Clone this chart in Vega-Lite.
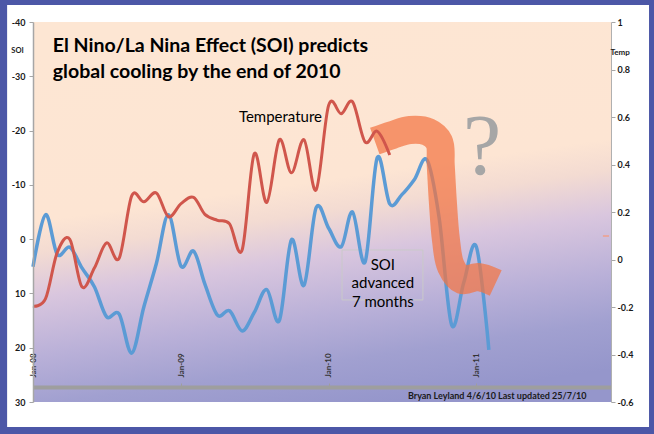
{
  "$schema": "https://vega.github.io/schema/vega-lite/v6.json",
  "width": 578,
  "height": 380,
  "autosize": {"type": "none"},
  "padding": {"left": 33, "top": 22, "right": 43, "bottom": 32},
  "background": "#4c57a7",
  "config": {"view": {"stroke": null}, "font": "Lato"},
  "datasets": {
    "temp": [
      {"date": "2008-01-01T00:00", "temp": -0.196},
      {"date": "2008-02-01T00:00", "temp": -0.165},
      {"date": "2008-03-01T00:00", "temp": 0.03},
      {"date": "2008-04-01T00:00", "temp": 0.085},
      {"date": "2008-05-01T00:00", "temp": -0.115},
      {"date": "2008-06-01T00:00", "temp": -0.035},
      {"date": "2008-07-01T00:00", "temp": 0.07},
      {"date": "2008-08-01T00:00", "temp": 0.005},
      {"date": "2008-09-01T00:00", "temp": 0.268},
      {"date": "2008-10-01T00:00", "temp": 0.243},
      {"date": "2008-11-01T00:00", "temp": 0.28},
      {"date": "2008-12-01T00:00", "temp": 0.18},
      {"date": "2009-01-01T00:00", "temp": 0.235},
      {"date": "2009-02-01T00:00", "temp": 0.262},
      {"date": "2009-03-01T00:00", "temp": 0.19},
      {"date": "2009-04-01T00:00", "temp": 0.165},
      {"date": "2009-05-01T00:00", "temp": 0.15},
      {"date": "2009-06-01T00:00", "temp": 0.04},
      {"date": "2009-07-01T00:00", "temp": 0.445},
      {"date": "2009-08-01T00:00", "temp": 0.24},
      {"date": "2009-09-01T00:00", "temp": 0.504},
      {"date": "2009-10-01T00:00", "temp": 0.365},
      {"date": "2009-11-01T00:00", "temp": 0.504},
      {"date": "2009-12-01T00:00", "temp": 0.293},
      {"date": "2010-01-01T00:00", "temp": 0.65},
      {"date": "2010-02-01T00:00", "temp": 0.614},
      {"date": "2010-03-01T00:00", "temp": 0.664},
      {"date": "2010-04-01T00:00", "temp": 0.495},
      {"date": "2010-05-01T00:00", "temp": 0.54},
      {"date": "2010-06-01T00:00", "temp": 0.44}
    ],
    "soi": [
      {"date": "2008-01-01T00:00", "soi": 5.1},
      {"date": "2008-02-01T00:00", "soi": -4.5},
      {"date": "2008-03-01T00:00", "soi": 2.8},
      {"date": "2008-04-01T00:00", "soi": 1.5},
      {"date": "2008-05-01T00:00", "soi": 5.3},
      {"date": "2008-06-01T00:00", "soi": 8.8},
      {"date": "2008-07-01T00:00", "soi": 14.3},
      {"date": "2008-08-01T00:00", "soi": 13.8},
      {"date": "2008-09-01T00:00", "soi": 21.0},
      {"date": "2008-10-01T00:00", "soi": 12.5},
      {"date": "2008-11-01T00:00", "soi": 4.5},
      {"date": "2008-12-01T00:00", "soi": -4.5},
      {"date": "2009-01-01T00:00", "soi": 5.0},
      {"date": "2009-02-01T00:00", "soi": 2.2},
      {"date": "2009-03-01T00:00", "soi": 8.3},
      {"date": "2009-04-01T00:00", "soi": 14.0},
      {"date": "2009-05-01T00:00", "soi": 13.2},
      {"date": "2009-06-01T00:00", "soi": 16.9},
      {"date": "2009-07-01T00:00", "soi": 13.5},
      {"date": "2009-08-01T00:00", "soi": 9.3},
      {"date": "2009-09-01T00:00", "soi": 15.0},
      {"date": "2009-10-01T00:00", "soi": 0.1},
      {"date": "2009-11-01T00:00", "soi": 8.5},
      {"date": "2009-12-01T00:00", "soi": -5.8},
      {"date": "2010-01-01T00:00", "soi": -2.0},
      {"date": "2010-02-01T00:00", "soi": 1.4},
      {"date": "2010-03-01T00:00", "soi": -5.0},
      {"date": "2010-04-01T00:00", "soi": 4.2},
      {"date": "2010-05-01T00:00", "soi": -15.0},
      {"date": "2010-06-01T00:00", "soi": -6.5},
      {"date": "2010-07-01T00:00", "soi": -8.2},
      {"date": "2010-08-01T00:00", "soi": -11.0},
      {"date": "2010-09-01T00:00", "soi": -14.6},
      {"date": "2010-10-01T00:00", "soi": -4.0},
      {"date": "2010-11-01T00:00", "soi": 15.8},
      {"date": "2010-12-01T00:00", "soi": 8.0},
      {"date": "2011-01-01T00:00", "soi": 1.4},
      {"date": "2011-02-01T00:00", "soi": 20.4}
    ],
    "arrow": [
      {"date": "2010-04-25T00:00", "soi": -18.08},
      {"date": "2010-06-07T00:00", "soi": -19.18},
      {"date": "2010-07-21T00:00", "soi": -20.11},
      {"date": "2010-09-04T00:00", "soi": -19.74},
      {"date": "2010-10-01T00:00", "soi": -17.9},
      {"date": "2010-10-05T00:00", "soi": -13.66},
      {"date": "2010-10-10T00:00", "soi": -7.21},
      {"date": "2010-10-18T00:00", "soi": 0.16},
      {"date": "2010-10-30T00:00", "soi": 4.95},
      {"date": "2010-11-27T00:00", "soi": 7.53},
      {"date": "2011-01-05T00:00", "soi": 6.97},
      {"date": "2011-02-18T00:00", "soi": 8.08}
    ]
  },
  "resolve": {"scale": {"y": "independent"}, "axis": {"x": "independent"}},
  "layer": [
    {
      "data": {"values": [{}]},
      "mark": {"type": "rect", "fill": "#ffffff"},
      "encoding": {
        "x": {"datum": {"year": 2007, "month": 10, "date": 29}, "type": "temporal", "scale": {"domain": [{"year": 2008, "month": 1, "date": 1}, {"year": 2011, "month": 11, "date": 30}]}, "axis": null},
        "x2": {"datum": {"year": 2012, "month": 3, "date": 3}},
        "y": {"datum": -43.13, "type": "quantitative", "scale": {"domain": [-40, 30], "reverse": true, "nice": false, "zero": false}, "axis": null},
        "y2": {"datum": 34.6}
      }
    },
    {
      "data": {"values": [{}]},
      "mark": {"type": "rect", "fill": {"gradient": "linear", "x1": 0.39, "y1": 0, "x2": 0.61, "y2": 1, "stops": [
        {"offset": 0, "color": "#fde6d3"},
        {"offset": 0.42, "color": "#fde5d3"},
        {"offset": 0.5, "color": "#f3dbd2"},
        {"offset": 0.61, "color": "#d9c6de"},
        {"offset": 0.76, "color": "#b9b0d8"},
        {"offset": 0.88, "color": "#a1a0d0"},
        {"offset": 1, "color": "#9596cb"}
      ]}},
      "encoding": {
        "x": {"datum": {"year": 2008, "month": 1, "date": 1}, "type": "temporal", "scale": {"domain": [{"year": 2008, "month": 1, "date": 1}, {"year": 2011, "month": 11, "date": 30}]}, "axis": null},
        "x2": {"datum": {"year": 2011, "month": 11, "date": 30}},
        "y": {"datum": -40, "type": "quantitative", "scale": {"domain": [-40, 30], "reverse": true, "nice": false, "zero": false}, "axis": null},
        "y2": {"datum": 30}
      }
    },
    {
      "data": {"values": [{}]},
      "mark": {"type": "rect", "fill": "transparent", "stroke": "#c9c9c9", "strokeWidth": 1},
      "encoding": {
        "x": {"datum": {"year": 2010, "month": 2, "date": 3}, "type": "temporal", "scale": {"domain": [{"year": 2008, "month": 1, "date": 1}, {"year": 2011, "month": 11, "date": 30}]}, "axis": null},
        "x2": {"datum": {"year": 2010, "month": 8, "date": 22}},
        "y": {"datum": 2.0, "type": "quantitative", "scale": {"domain": [-40, 30], "reverse": true, "nice": false, "zero": false}, "axis": null},
        "y2": {"datum": 11.2}
      }
    },
    {
      "data": {"name": "soi"},
      "mark": {"type": "line", "interpolate": "cardinal", "color": "#5b9bd5", "strokeWidth": 3.5},
      "encoding": {
        "x": {"field": "date", "type": "temporal", "scale": {"domain": [{"year": 2008, "month": 1, "date": 1}, {"year": 2011, "month": 11, "date": 30}]}, "axis": null},
        "y": {"field": "soi", "type": "quantitative", "scale": {"domain": [-40, 30], "reverse": true, "nice": false, "zero": false},
          "axis": {"orient": "left", "zindex": 1, "values": [-40, -30, -20, -10, 0, 10, 20, 30], "labelExpr": "replace(format(datum.value, '~g'), '−', '-')",
            "labelFont": "Lato", "labelFontSize": 9, "labelFontWeight": "bold", "labelColor": "#1a1a1a", "labelPadding": 4,
            "tickSize": 4, "tickColor": "#a6a6a6", "domainColor": "#a6a6a6", "domainWidth": 1.5, "grid": false,
            "title": "SOI", "titleAngle": 0, "titleX": -16, "titleY": 28, "titleAlign": "center", "titleBaseline": "middle",
            "titleFont": "Lato", "titleFontSize": 7.5, "titleFontWeight": "bold", "titleColor": "#1a1a1a"}}
      }
    },
    {
      "data": {"name": "arrow"},
      "mark": {"type": "line", "interpolate": "catmull-rom", "color": "#f27443", "opacity": 0.72, "strokeWidth": 28, "strokeCap": "butt", "strokeJoin": "round"},
      "encoding": {
        "x": {"field": "date", "type": "temporal", "scale": {"domain": [{"year": 2008, "month": 1, "date": 1}, {"year": 2011, "month": 11, "date": 30}]}, "axis": null},
        "y": {"field": "soi", "type": "quantitative", "scale": {"domain": [-40, 30], "reverse": true, "nice": false, "zero": false}, "axis": null}
      }
    },
    {
      "data": {"name": "temp"},
      "mark": {"type": "line", "interpolate": "cardinal", "color": "#d0564c", "strokeWidth": 3},
      "encoding": {
        "x": {"field": "date", "type": "temporal", "scale": {"domain": [{"year": 2008, "month": 1, "date": 1}, {"year": 2011, "month": 11, "date": 30}]},
          "axis": {"orient": "bottom", "zindex": 1, "offset": -15, "values": [{"year": 2008, "month": 1, "date": 1}, {"year": 2009, "month": 1, "date": 1}, {"year": 2010, "month": 1, "date": 1}, {"year": 2011, "month": 1, "date": 1}],
            "format": "%b-%y", "labelAngle": -90, "labelAlign": "left", "labelBaseline": "middle", "labelPadding": -6, "tickSize": -4,
            "labelFont": "Lato", "labelFontSize": 8, "labelFontWeight": "bold", "labelColor": "#333333", "labelFlush": false, "labelOverlap": false,
            "domainColor": "#9e9e9e", "domainWidth": 4, "tickColor": "#9e9e9e", "grid": false, "title": null}},
        "y": {"field": "temp", "type": "quantitative", "scale": {"domain": [-0.6, 1], "nice": false, "zero": false},
          "axis": {"orient": "right", "zindex": 1, "values": [-0.6, -0.4, -0.2, 0, 0.2, 0.4, 0.6, 0.8, 1], "labelExpr": "replace(format(datum.value, '~g'), '−', '-')",
            "labelFont": "Lato", "labelFontSize": 9, "labelFontWeight": "bold", "labelColor": "#1a1a1a", "labelPadding": 2,
            "tickSize": 4, "tickColor": "#a6a6a6", "domainColor": "#b0b0b0", "domainWidth": 1, "grid": false,
            "title": "Temp", "titleAngle": 0, "titleX": -1, "titleY": 30, "titleAlign": "left", "titleBaseline": "middle",
            "titleFont": "Lato", "titleFontSize": 8, "titleFontWeight": "bold", "titleColor": "#1a1a1a"}}
      }
    },
    {
      "data": {"values": [{}]},
      "mark": {"type": "rule", "color": "#f0a08a", "strokeWidth": 1.5},
      "encoding": {
        "x": {"datum": {"year": 2011, "month": 11, "date": 10}, "type": "temporal", "scale": {"domain": [{"year": 2008, "month": 1, "date": 1}, {"year": 2011, "month": 11, "date": 30}]}, "axis": null},
        "x2": {"datum": {"year": 2011, "month": 11, "date": 25}},
        "y": {"datum": -0.58, "type": "quantitative", "scale": {"domain": [-40, 30], "reverse": true, "nice": false, "zero": false}, "axis": null}
      }
    },
    {
      "data": {"values": [{}]},
      "mark": {"type": "text", "text": ["El Nino/La Nina Effect (SOI) predicts", "global cooling by the end of 2010"], "align": "left", "baseline": "alphabetic", "font": "Lato", "fontSize": 19.5, "fontWeight": "bold", "lineHeight": 26, "color": "#000000"},
      "encoding": {
        "x": {"datum": {"year": 2008, "month": 2, "date": 19}, "type": "temporal", "scale": {"domain": [{"year": 2008, "month": 1, "date": 1}, {"year": 2011, "month": 11, "date": 30}]}, "axis": null},
        "y": {"datum": -34.47, "type": "quantitative", "scale": {"domain": [-40, 30], "reverse": true, "nice": false, "zero": false}, "axis": null}
      }
    },
    {
      "data": {"values": [{}]},
      "mark": {"type": "text", "text": "Temperature", "align": "left", "baseline": "alphabetic", "font": "Lato", "fontSize": 15, "color": "#000000"},
      "encoding": {
        "x": {"datum": {"year": 2009, "month": 5, "date": 24}, "type": "temporal", "scale": {"domain": [{"year": 2008, "month": 1, "date": 1}, {"year": 2011, "month": 11, "date": 30}]}, "axis": null},
        "y": {"datum": -21.58, "type": "quantitative", "scale": {"domain": [-40, 30], "reverse": true, "nice": false, "zero": false}, "axis": null}
      }
    },
    {
      "data": {"values": [{}]},
      "mark": {"type": "text", "text": ["SOI", "advanced", "7 months"], "align": "center", "baseline": "alphabetic", "font": "Lato", "fontSize": 15, "lineHeight": 18.5, "color": "#000000"},
      "encoding": {
        "x": {"datum": {"year": 2010, "month": 5, "date": 15}, "type": "temporal", "scale": {"domain": [{"year": 2008, "month": 1, "date": 1}, {"year": 2011, "month": 11, "date": 30}]}, "axis": null},
        "y": {"datum": 5.6, "type": "quantitative", "scale": {"domain": [-40, 30], "reverse": true, "nice": false, "zero": false}, "axis": null}
      }
    },
    {
      "data": {"values": [{}]},
      "mark": {"type": "text", "text": "?", "align": "center", "baseline": "alphabetic", "font": "Liberation Serif", "fontSize": 86, "color": "#a6a6a6"},
      "encoding": {
        "x": {"datum": {"year": 2011, "month": 1, "date": 15}, "type": "temporal", "scale": {"domain": [{"year": 2008, "month": 1, "date": 1}, {"year": 2011, "month": 11, "date": 30}]}, "axis": null},
        "y": {"datum": -12.0, "type": "quantitative", "scale": {"domain": [-40, 30], "reverse": true, "nice": false, "zero": false}, "axis": null}
      }
    },
    {
      "data": {"values": [{}]},
      "mark": {"type": "text", "text": "Bryan Leyland 4/6/10  Last updated 25/7/10", "align": "left", "baseline": "alphabetic", "font": "Lato", "fontSize": 9, "fontWeight": "bold", "color": "#1a1a1a"},
      "encoding": {
        "x": {"datum": {"year": 2010, "month": 7, "date": 16}, "type": "temporal", "scale": {"domain": [{"year": 2008, "month": 1, "date": 1}, {"year": 2011, "month": 11, "date": 30}]}, "axis": null},
        "y": {"datum": 29.45, "type": "quantitative", "scale": {"domain": [-40, 30], "reverse": true, "nice": false, "zero": false}, "axis": null}
      }
    }
  ]
}
